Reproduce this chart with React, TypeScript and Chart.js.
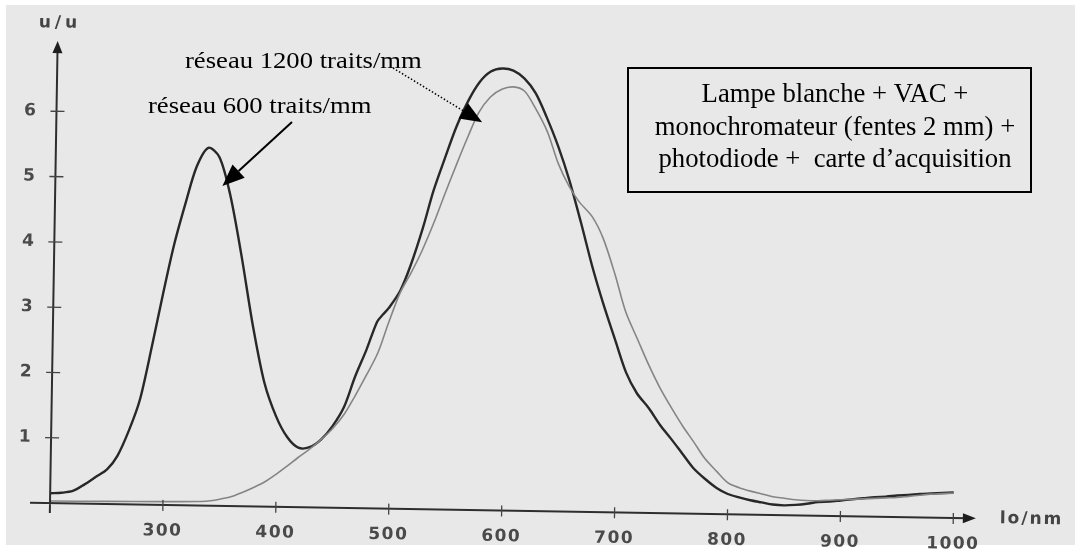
import React, { useEffect, useRef } from "react";
import { Chart, registerables } from "chart.js";

Chart.register(...registerables);

// réseau 600 traits/mm (dark trace): wavelength (nm) / signal (u/u)
const nm600 = [200, 210, 220, 230, 240, 250, 259, 269, 278, 288, 297, 306, 316, 325, 335, 345, 355, 366, 377, 388, 399, 409, 419, 429, 439, 449, 459, 468, 478, 487, 492, 497, 507, 516, 526, 535, 545, 554, 564, 574, 584, 594, 604, 614, 624, 634, 645, 655, 666, 677, 687, 698, 708, 718, 729, 739, 749, 759, 769, 780, 790, 800, 810, 820, 830, 840, 850, 860, 870, 880, 890, 900, 910, 920, 930, 940, 950, 960, 970, 980, 990, 1000];
const val600 = [0.15, 0.16, 0.19, 0.29, 0.41, 0.53, 0.74, 1.14, 1.6, 2.43, 3.23, 3.98, 4.65, 5.19, 5.48, 5.34, 4.77, 3.83, 2.77, 1.9, 1.38, 1.07, 0.91, 0.92, 1.04, 1.25, 1.55, 2.0, 2.43, 2.86, 2.97, 3.07, 3.34, 3.74, 4.3, 4.88, 5.4, 5.85, 6.25, 6.55, 6.72, 6.77, 6.74, 6.62, 6.4, 6.04, 5.58, 5.08, 4.43, 3.74, 3.19, 2.64, 2.15, 1.83, 1.6, 1.35, 1.14, 0.92, 0.7, 0.53, 0.4, 0.31, 0.26, 0.22, 0.19, 0.16, 0.15, 0.16, 0.18, 0.21, 0.22, 0.24, 0.26, 0.28, 0.3, 0.31, 0.33, 0.34, 0.36, 0.37, 0.38, 0.39];

// réseau 1200 traits/mm (light trace)
const nm1200 = [200, 250, 300, 330, 340, 350, 360, 370, 380, 390, 400, 409, 419, 429, 439, 449, 459, 468, 478, 488, 497, 507, 517, 526, 536, 545, 555, 565, 574, 584, 594, 604, 614, 624, 635, 645, 655, 664, 676, 686, 697, 707, 718, 728, 738, 749, 759, 769, 779, 790, 800, 810, 820, 830, 840, 850, 860, 870, 880, 890, 900, 910, 920, 930, 940, 950, 960, 970, 980, 990, 1000];
const val1200 = [0.03, 0.04, 0.05, 0.06, 0.07, 0.1, 0.14, 0.21, 0.29, 0.38, 0.5, 0.62, 0.76, 0.89, 1.04, 1.21, 1.43, 1.7, 2.03, 2.38, 2.84, 3.31, 3.64, 3.97, 4.4, 4.83, 5.29, 5.73, 6.09, 6.33, 6.45, 6.49, 6.43, 6.17, 5.81, 5.33, 4.98, 4.75, 4.52, 4.19, 3.64, 3.07, 2.65, 2.27, 1.93, 1.61, 1.34, 1.1, 0.85, 0.65, 0.48, 0.41, 0.36, 0.32, 0.28, 0.26, 0.24, 0.23, 0.23, 0.24, 0.25, 0.26, 0.27, 0.28, 0.29, 0.3, 0.32, 0.34, 0.36, 0.37, 0.38];

const xTicks = [300, 400, 500, 600, 700, 800, 900, 1000];
const yTicks = [1, 2, 3, 4, 5, 6];

const yTitle = "u/u";
const xTitle = "lo/nm";
const label1200 = "réseau 1200 traits/mm";
const label600 = "réseau 600 traits/mm";
const boxLines = [
  "Lampe blanche + VAC +",
  "monochromateur (fentes 2 mm) +",
  "photodiode +  carte d\u2019acquisition",
];
// arrow tips in data units (nm, u/u)
const tip600 = [348, 4.9];
const tip1200 = [577, 5.94];

const TILT = (0.95 * Math.PI) / 180;

function toScreen(chart: any, xv: number, yv: number): [number, number] {
  const a = chart.chartArea;
  const px = chart.scales.x.getPixelForValue(xv);
  const py = chart.scales.y.getPixelForValue(yv);
  const dx = px - a.left;
  const dy = py - a.bottom;
  const c = Math.cos(TILT);
  const s = Math.sin(TILT);
  return [a.left + dx * c - dy * s, a.bottom + dx * s + dy * c];
}

function drawArrow(ctx: CanvasRenderingContext2D, x1: number, y1: number, x2: number, y2: number, dotted: boolean) {
  const ang = Math.atan2(y2 - y1, x2 - x1);
  const L = 22;
  const W = 9;
  const bx = x2 - L * Math.cos(ang);
  const by = y2 - L * Math.sin(ang);
  ctx.save();
  ctx.strokeStyle = "#000";
  ctx.fillStyle = "#000";
  ctx.lineWidth = dotted ? 1.5 : 2;
  ctx.setLineDash(dotted ? [1.5, 2] : []);
  ctx.beginPath();
  ctx.moveTo(x1, y1);
  ctx.lineTo(bx, by);
  ctx.stroke();
  ctx.setLineDash([]);
  ctx.beginPath();
  ctx.moveTo(x2, y2);
  ctx.lineTo(bx + W * Math.sin(ang), by - W * Math.cos(ang));
  ctx.lineTo(bx - W * Math.sin(ang), by + W * Math.cos(ang));
  ctx.closePath();
  ctx.fill();
  ctx.restore();
}

const scanPlugin = {
  id: "scan",
  beforeDraw(chart: any) {
    const { ctx, chartArea: a } = chart;
    ctx.save();
    ctx.fillStyle = "#e8e8e8";
    ctx.fillRect(6, 5, 1069, 540);
    ctx.translate(a.left, a.bottom);
    ctx.rotate(TILT);
    ctx.translate(-a.left, -a.bottom);
    ctx.letterSpacing = "1.5px";
  },
  afterDraw(chart: any) {
    const { ctx, chartArea: a } = chart;
    const xs = chart.scales.x;
    const ys = chart.scales.y;
    ctx.save();
    ctx.strokeStyle = "#2e2e2e";
    ctx.lineWidth = 2;
    ctx.beginPath();
    ctx.moveTo(a.left - 20, a.bottom);
    ctx.lineTo(a.right - 8, a.bottom);
    ctx.moveTo(a.left, a.bottom + 10);
    ctx.lineTo(a.left, a.top + 4);
    ctx.stroke();
    ctx.fillStyle = "#1e1e1e";
    ctx.beginPath();
    ctx.moveTo(a.right, a.bottom);
    ctx.lineTo(a.right - 13, a.bottom - 5);
    ctx.lineTo(a.right - 13, a.bottom + 5);
    ctx.closePath();
    ctx.fill();
    ctx.beginPath();
    ctx.moveTo(a.left, a.top - 5);
    ctx.lineTo(a.left - 5, a.top + 7);
    ctx.lineTo(a.left + 5, a.top + 7);
    ctx.closePath();
    ctx.fill();
    ctx.strokeStyle = "#444";
    ctx.lineWidth = 1.3;
    ctx.beginPath();
    xTicks.forEach((v) => {
      const px = xs.getPixelForValue(v);
      ctx.moveTo(px, a.bottom - 5);
      ctx.lineTo(px, a.bottom + 6);
    });
    yTicks.forEach((v) => {
      const py = ys.getPixelForValue(v);
      ctx.moveTo(a.left - 6, py);
      ctx.lineTo(a.left + 8, py);
    });
    ctx.stroke();
    ctx.fillStyle = "#444";
    ctx.font = 'bold 17px "DejaVu Sans"';
    ctx.textBaseline = "middle";
    ctx.textAlign = "center";
    ctx.letterSpacing = "4px";
    ctx.fillText(yTitle, a.left + 2, 23);
    ctx.letterSpacing = "2px";
    ctx.textAlign = "left";
    ctx.fillText(xTitle, 1000, a.bottom);
    ctx.restore();
    ctx.restore(); // end of tilted scan frame

    // overlaid annotations (not tilted)
    ctx.save();
    ctx.fillStyle = "#000";
    ctx.textBaseline = "alphabetic";
    ctx.textAlign = "left";
    ctx.font = '24px "Liberation Serif"';
    ctx.save();
    ctx.translate(185, 68);
    ctx.scale(1.11, 1);
    ctx.fillText(label1200, 0, 0);
    ctx.restore();
    ctx.save();
    ctx.translate(148, 113);
    ctx.scale(1.11, 1);
    ctx.fillText(label600, 0, 0);
    ctx.restore();
    const t1 = toScreen(chart, tip1200[0], tip1200[1]);
    drawArrow(ctx, 393, 68, t1[0], t1[1], true);
    const t2 = toScreen(chart, tip600[0], tip600[1]);
    drawArrow(ctx, 292, 122, t2[0], t2[1], false);
    ctx.strokeStyle = "#000";
    ctx.lineWidth = 2;
    ctx.strokeRect(628, 68, 403, 124);
    ctx.font = '26.7px "Liberation Serif"';
    ctx.textAlign = "center";
    const base = [102, 134.5, 167];
    boxLines.forEach((t, i) => ctx.fillText(t, 835, base[i]));
    ctx.restore();
  },
};

export default function App() {
  const ref = useRef<HTMLCanvasElement>(null);
  useEffect(() => {
    const tickFont = { family: "DejaVu Sans", size: 17, weight: "bold" as const };
    const chart = new Chart(ref.current as HTMLCanvasElement, {
      type: "line",
      data: {
        datasets: [
          {
            label: label1200,
            data: nm1200.map((x, i) => ({ x, y: val1200[i] })),
            borderColor: "#858585",
            borderWidth: 1.6,
            tension: 0.3,
            pointRadius: 0,
            clip: false as any,
          },
          {
            label: label600,
            data: nm600.map((x, i) => ({ x, y: val600[i] })),
            borderColor: "#282828",
            borderWidth: 2.4,
            tension: 0.3,
            pointRadius: 0,
            clip: false as any,
          },
        ],
      },
      options: {
        responsive: false,
        animation: false,
        layout: { padding: { top: 46, right: 99, left: 0, bottom: 0 } },
        plugins: {
          legend: { display: false },
          tooltip: { enabled: false },
          title: { display: false },
        },
        scales: {
          x: {
            type: "linear",
            min: 200,
            max: 1020,
            afterFit: (s: any) => {
              s.height = 52;
            },
            afterBuildTicks: (s: any) => {
              s.ticks = xTicks.map((v) => ({ value: v }));
            },
            grid: { display: false },
            border: { display: false },
            ticks: {
              padding: 8,
              font: tickFont,
              color: "#4a4a4a",
              maxRotation: 0,
              autoSkip: false,
              callback: (v: any) => String(v),
            },
          },
          y: {
            type: "linear",
            min: 0,
            max: 7,
            afterFit: (s: any) => {
              s.width = 50;
            },
            afterBuildTicks: (s: any) => {
              s.ticks = yTicks.map((v) => ({ value: v }));
            },
            grid: { display: false },
            border: { display: false },
            ticks: {
              padding: 11,
              font: tickFont,
              color: "#4a4a4a",
              autoSkip: false,
              callback: (v: any) => String(v),
            },
          },
        },
      },
      plugins: [scanPlugin],
    });
    return () => chart.destroy();
  }, []);
  return (
    <div style={{ position: "absolute", left: 0, top: 0, width: 1075, height: 555, background: "#fff" }}>
      <canvas ref={ref} width={1075} height={555} style={{ display: "block" }} />
    </div>
  );
}
